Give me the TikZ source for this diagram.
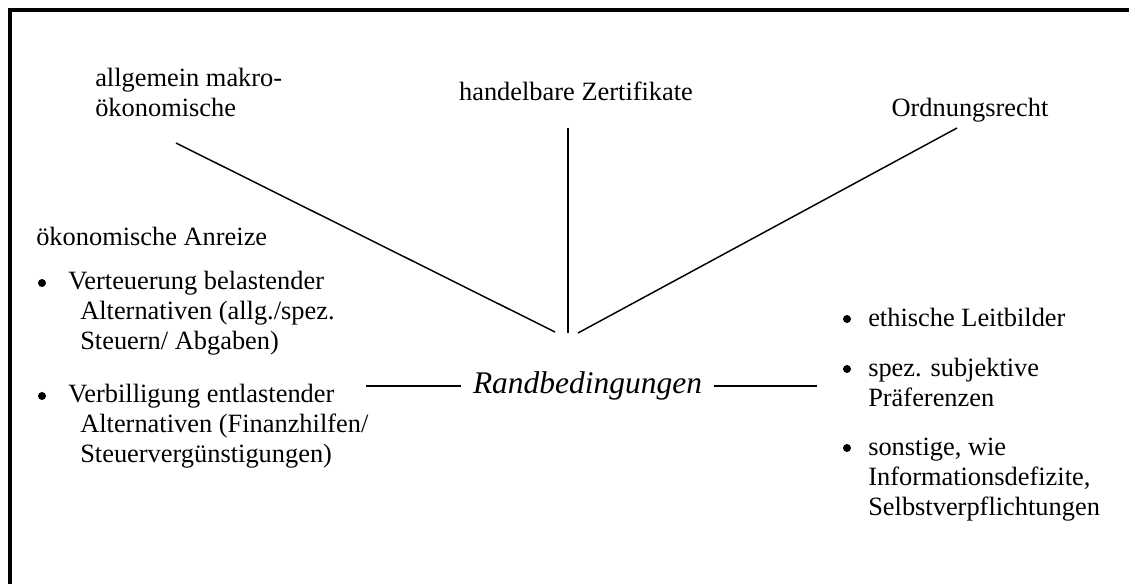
\documentclass[tikz,border=0pt]{standalone}
\usepackage{fontspec}
\setmainfont{Liberation Serif}

\begin{document}
\begin{tikzpicture}[x=0.75pt, y=-0.75pt,
    txt/.style={inner sep=0pt, anchor=base west, align=left, font=\fontsize{19.8}{22.5}\selectfont},
    spoke/.style={line width=1.1pt},
    bulletdot/.style={circle, fill, inner sep=0pt, minimum size=6pt}]
  \useasboundingbox (0,0) rectangle (1129,584);
  \draw[line width=2.5pt] (10,600) -- (10,10) -- (1140,10);

  \node[txt] (makro) at (95,117) {allgemein makro-\\ökonomische};
  \node[txt, anchor=base] (zert) at (576,101) {handelbare Zertifikate};
  \node[txt, anchor=base] (ordnung) at (970,117) {Ordnungsrecht};

  \node[txt] (anreize) at (36,246) {ökonomische Anreize};
  \node[bulletdot] (teuer-dot) at (42,283) {};
  \node[txt] (teuer) at (68,350) {Verteuerung belastender\\\hspace*{9pt}Alternativen (allg./spez.\\\hspace*{9pt}Steuern/ Abgaben)};
  \node[bulletdot] (billig-dot) at (42,396) {};
  \node[txt] (billig) at (68,463) {Verbilligung entlastender\\\hspace*{9pt}Alternativen (Finanzhilfen/\\\hspace*{9pt}Steuervergünstigungen)};

  \node[bulletdot] (ethik-dot) at (847,319) {};
  \node[txt] (ethik) at (868,327) {ethische Leitbilder};
  \node[bulletdot] (praef-dot) at (847,369) {};
  \node[txt] (praef) at (868,407) {spez. subjektive\\Präferenzen};
  \node[bulletdot] (sonst-dot) at (847,448) {};
  \node[txt] (sonst) at (868,516) {sonstige, wie\\Informationsdefizite,\\Selbstverpflichtungen};

  \node[font=\fontsize{23.6}{28}\selectfont\itshape, inner xsep=9pt, inner ysep=0pt] (rand) at (587.5,386) {Randbedingungen};

  \coordinate (makro-foot) at (176,143);
  \coordinate (zert-foot) at (568,128);
  \coordinate (ordnung-foot) at (957,128);
  \coordinate (hub-w) at (555,332);
  \coordinate (hub) at (568,333);
  \coordinate (hub-e) at (578,333);
  \coordinate (anreize-tip) at (366,386);
  \coordinate (leitbild-tip) at (817,386);

  \draw[spoke] (makro-foot) -- (hub-w);
  \draw[spoke] (zert-foot) -- (hub);
  \draw[spoke] (ordnung-foot) -- (hub-e);
  \draw[spoke] (anreize-tip) -- (rand);
  \draw[spoke] (rand) -- (leitbild-tip);
\end{tikzpicture}
\end{document}
